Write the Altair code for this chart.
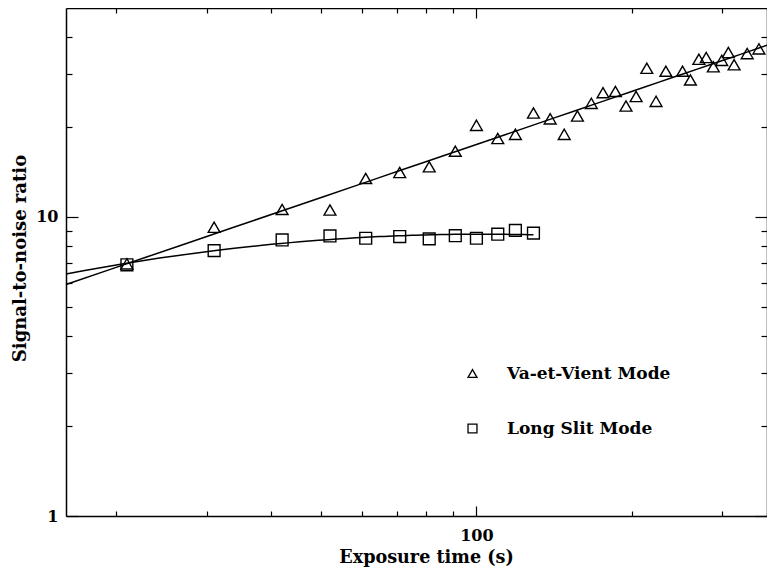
import math
import altair as alt
import pandas as pd

# ---- data ----
vv_time = [21, 31, 42, 52, 61, 71, 81, 91, 100, 110, 119, 129, 139, 148, 157, 167,
           176, 186, 195, 204, 214, 223, 233, 251, 260, 270, 279, 288, 299, 308, 316, 335, 353]
vv_snr = [6.97, 9.24, 10.6, 10.55, 13.46, 14.09, 14.72, 16.6, 20.26, 18.3, 18.9, 22.27,
          21.3, 18.9, 21.76, 23.99, 26.05, 26.3, 23.5, 25.3, 31.45, 24.36, 30.74, 30.74,
          28.73, 33.7, 34.15, 31.8, 33.4, 35.5, 32.3, 35.2, 36.5]
ls_time = [21, 31, 42, 52, 61, 71, 81, 91, 100, 110, 119, 129]
ls_snr = [6.92, 7.72, 8.38, 8.64, 8.49, 8.6, 8.45, 8.66, 8.49, 8.76, 9.02, 8.83]

modes = ["Va-et-Vient Mode", "Long Slit Mode"]
x_domain = [16, 366]
y_domain = [1, 50]
x_major = [100]
x_minor = [20, 30, 40, 50, 60, 70, 80, 90, 200, 300]
y_major = [1, 10]
y_minor = [2, 3, 4, 5, 6, 7, 8, 9, 20, 30, 40]

W, H = 701, 508
FONT = "DejaVu Serif"
FS_LABEL = 16
FS_XTITLE = 17.6
FS_YTITLE = 18
FS_LEGEND = 17

vv = pd.DataFrame({"time": vv_time, "snr": vv_snr, "mode": modes[0]})
ls = pd.DataFrame({"time": ls_time, "snr": ls_snr, "mode": modes[1]})
data = pd.concat([vv, ls], ignore_index=True)

xs = alt.Scale(type="log", domain=x_domain, nice=False)
ys = alt.Scale(type="log", domain=y_domain, nice=False)

x_all = sorted(x_minor + x_major)
y_all = sorted(y_minor + y_major)
x_tick = {"condition": {"test": "datum.value == 100", "value": 10}, "value": 5}
y_tick = {"condition": {"test": "datum.value == 10 || datum.value == 1", "value": 12}, "value": 6}

common = dict(tickColor="black", tickWidth=1.2, domainColor="black", domainWidth=1.5, grid=False)

ax_bottom = alt.Axis(orient="bottom", values=x_major, format="d", ticks=False, domain=True,
                     labelFont=FONT, labelFontWeight="bold", labelFontSize=FS_LABEL,
                     labelColor="black", labelPadding=11.5, title="Exposure time (s)",
                     titleFont=FONT, titleFontWeight="bold", titleFontSize=FS_XTITLE,
                     titleColor="black", titleX=360, titleY=46.8, titleBaseline="alphabetic",
                     **common)
ax_bottom_in = alt.Axis(orient="top", offset=-H, values=x_all, labels=False, tickSize=x_tick,
                        domain=False, title=None, tickColor="black", tickWidth=1.2, grid=False)
ax_top = alt.Axis(orient="bottom", offset=-H, values=x_all, labels=False, tickSize=x_tick,
                  title=None, **common)

ay_left = alt.Axis(orient="left", values=y_major, format="d", ticks=False, domain=True,
                   labelFont=FONT, labelFontWeight="bold", labelFontSize=FS_LABEL,
                   labelColor="black", labelPadding=8, title="Signal-to-noise ratio",
                   titleFont=FONT, titleFontWeight="bold", titleFontSize=FS_YTITLE,
                   titleColor="black", titleX=-41, titleY=250, titleBaseline="alphabetic",
                   titleAngle=270, **common)
ay_left_in = alt.Axis(orient="right", offset=-W, values=y_all, labels=False, tickSize=y_tick,
                      domain=False, title=None, tickColor="black", tickWidth=1.2, grid=False)
ay_right = alt.Axis(orient="left", offset=-W, values=y_all, labels=False, tickSize=y_tick,
                    title=None, **common)

base = alt.Chart(data)

points = base.mark_point(filled=False, color="black", strokeWidth=1.4, opacity=1, size=140).encode(
    x=alt.X("time:Q", scale=xs, axis=ax_bottom),
    y=alt.Y("snr:Q", scale=ys, axis=ay_left),
    shape=alt.Shape("mode:N", scale=alt.Scale(domain=modes, range=["triangle-up", "square"]),
                    legend=alt.Legend(orient="none", legendX=398, legendY=357, title=None,
                                      labelFont=FONT, labelFontWeight="bold",
                                      labelFontSize=FS_LEGEND, labelColor="black",
                                      labelLimit=400, symbolSize=80, symbolStrokeColor="black",
                                      symbolStrokeWidth=1.3, symbolFillColor="white",
                                      rowPadding=37, labelOffset=26, padding=0)),
)

vv_fit = base.transform_filter(alt.datum.mode == modes[0]).transform_regression(
    "time", "snr", method="pow", extent=x_domain
).mark_line(color="black", strokeWidth=1.5).encode(
    x=alt.X("time:Q", scale=xs, axis=ax_bottom_in),
    y=alt.Y("snr:Q", scale=ys, axis=ay_left_in),
)

lo, hi = math.log10(x_domain[0]), math.log10(max(ls_time))
ls_fit = base.transform_filter(alt.datum.mode == modes[1]).transform_calculate(
    lt="log(datum.time) / LN10", lv="log(datum.snr) / LN10"
).transform_regression("lt", "lv", method="poly", order=2, extent=[lo, hi]).transform_calculate(
    time="pow(10, datum.lt)", snr="pow(10, datum.lv)"
).mark_line(color="black", strokeWidth=1.5).encode(
    x=alt.X("time:Q", scale=xs, axis=ax_top),
    y=alt.Y("snr:Q", scale=ys, axis=ay_right),
)

chart = alt.layer(vv_fit, ls_fit, points).resolve_axis(
    x="independent", y="independent"
).properties(
    width=W, height=H, autosize=alt.AutoSizeParams(type="none"),
    padding={"left": 58, "top": 0, "right": 0, "bottom": 51},
    background="white",
).configure_view(stroke=None)

chart.save("out.html", embed_options={"renderer": "svg", "actions": False})
